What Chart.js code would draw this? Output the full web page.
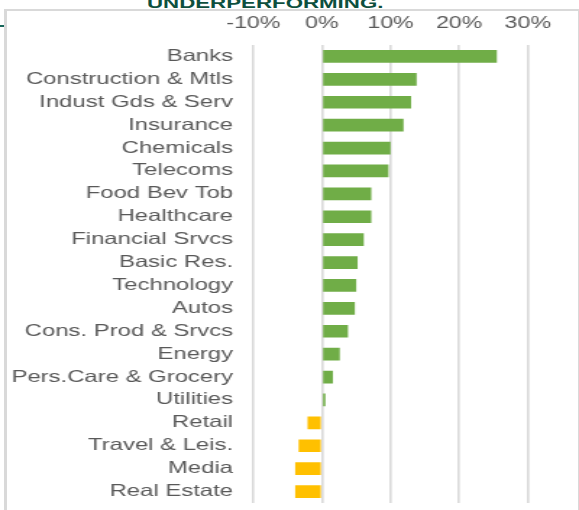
<!DOCTYPE html>
<html>
<head>
<meta charset="utf-8">
<script src="https://cdn.jsdelivr.net/npm/chart.js@4"></script>
<style>
  html, body { margin: 0; padding: 0; background: #ffffff; overflow: hidden; }
  body { width: 579px; height: 510px; position: relative; }
  #frame { position: absolute; left: 4px; top: 9px; width: 571px; height: 520px;
           border-left: 3px solid #d9d9d9; border-top: 2px solid #d9d9d9; border-right: 2px solid #d9d9d9; }
  #title { position: absolute; left: 147px; top: -5px; font: bold 15.4px "Liberation Sans", Arial, sans-serif;
           line-height: 16px; color: #0d4f3e; white-space: nowrap; transform: scaleX(1.4475); transform-origin: 0 0; }
  #tick { position: absolute; left: 0; top: 25px; width: 4px; height: 2px; background: #17665a; }
  #c { position: absolute; left: 0; top: 0; width: 579px; height: 510px; }
</style>
</head>
<body>
<div id="frame"></div>
<div id="tick"></div>
<div id="title">UNDERPERFORMING.</div>
<canvas id="c" width="400" height="510" style="width:579px;height:510px;"></canvas>
<script>
const categories = ['Banks','Construction & Mtls','Indust Gds & Serv','Insurance','Chemicals','Telecoms','Food Bev Tob','Healthcare','Financial Srvcs','Basic Res.','Technology','Autos','Cons. Prod & Srvcs','Energy','Pers.Care & Grocery','Utilities','Retail','Travel & Leis.','Media','Real Estate'];
const values = [25.5, 13.8, 13.0, 11.9, 10.0, 9.7, 7.2, 7.2, 6.1, 5.2, 5.0, 4.8, 3.8, 2.6, 1.6, 0.5, -2.1, -3.4, -3.9, -3.9];
const tickValues = [-10, 0, 10, 20, 30];
const positiveColor = '#70ad47';
const negativeColor = '#ffc000';

const W = 400;           // logical canvas width (stretched to 579px)
const plotLeft = 175;    // logical x of -10%
const plotRight = 364.6; // logical x of 30%

new Chart(document.getElementById('c'), {
  type: 'bar',
  data: {
    labels: categories,
    datasets: [{
      data: values,
      backgroundColor: ctx => (values[ctx.dataIndex] < 0 ? negativeColor : positiveColor),
      borderWidth: 0,
      barPercentage: 0.555,
      categoryPercentage: 1.0
    }]
  },
  options: {
    indexAxis: 'y',
    responsive: false,
    animation: false,
    devicePixelRatio: 1,
    layout: { padding: { left: 0, right: W - plotRight, top: 0, bottom: 7 } },
    plugins: { legend: { display: false }, tooltip: { enabled: false }, title: { display: false } },
    scales: {
      x: {
        position: 'top',
        min: tickValues[0],
        max: tickValues[tickValues.length - 1],
        afterBuildTicks: s => { s.ticks = tickValues.map(v => ({ value: v })); },
        afterFit: s => { s.height = 45; s.paddingLeft = 0; s.paddingRight = 0; },
        ticks: {
          callback: v => v + '%',
          color: '#595959',
          padding: 12,
          maxRotation: 0,
          font: { family: '"Liberation Sans", Arial, sans-serif', size: 16 }
        },
        grid: { color: '#d9d9d9', lineWidth: 1.6, drawTicks: false },
        border: { display: false }
      },
      y: {
        afterFit: s => { s.width = plotLeft; s.paddingTop = 0; s.paddingBottom = 0; },
        ticks: {
          color: '#595959',
          padding: 14,
          autoSkip: false,
          font: { family: '"Liberation Sans", Arial, sans-serif', size: 16.5 }
        },
        grid: { display: false, drawTicks: false },
        border: { display: false }
      }
    }
  }
});
</script>
</body>
</html>
